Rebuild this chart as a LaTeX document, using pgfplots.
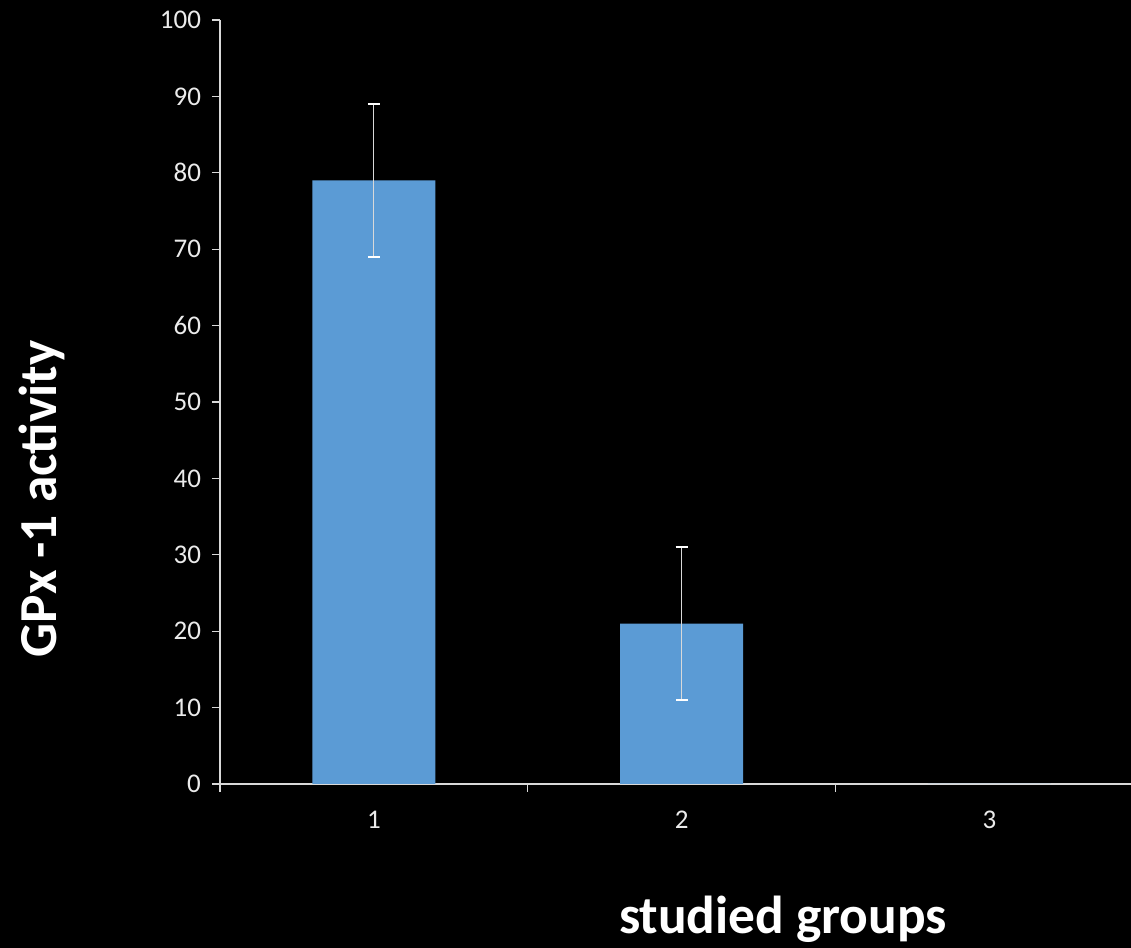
\documentclass[border=0pt]{standalone}
\usepackage{fontspec}
\setmainfont{Carlito}
\usepackage{pgfplots}
\pgfplotsset{compat=1.18}
\definecolor{barblue}{HTML}{5B9BD5}
\definecolor{axgray}{HTML}{D9D9D9}
\begin{document}
\begin{tikzpicture}[x=0.5pt,y=0.5pt]
\fill[black] (0,0) rectangle (1131,948);
\useasboundingbox (0,0) rectangle (1131,948);
\begin{axis}[
  at={(110pt,82pt)}, anchor=south west,
  scale only axis, width=455.5pt, height=382pt,
  xmin=0.5, xmax=3.46, ymin=0, ymax=100,
  axis x line*=bottom, axis y line*=left,
  axis line style={axgray, line width=0.6pt},
  xtick={0.5,1.5,2.5}, xticklabels={},
  extra x ticks={1,2,3}, extra x tick labels={1,2,3},
  extra x tick style={tick style={draw=none}},
  ytick={0,10,...,100},
  tick align=outside, major tick length=4pt,
  tick style={axgray, line width=0.6pt},
  tick label style={font=\fontsize{13.5}{15}\selectfont, text=white!92!black},
  /pgf/number format/assume math mode=true,
  yticklabel style={xshift=-2pt},
  xticklabel style={yshift=-6pt},
  ybar, bar width=61.5pt,
  clip=false,
]
\addplot[fill=barblue, draw=none,
  error bars/.cd, y dir=both, y explicit,
  error bar style={white!85!black, line width=0.6pt},
  error mark options={rotate=90, mark size=3pt, white, line width=0.9pt}]
  coordinates {(1,79) +- (0,10) (2,21) +- (0,10) (3,0)};
\end{axis}
\node[white, font=\bfseries\fontsize{26.7}{30}\selectfont, rotate=90] at (42,449) {GPx -1 activity};
\node[white, font=\bfseries\fontsize{26.7}{30}\selectfont] at (783,29) {studied groups};
\end{tikzpicture}
\end{document}
